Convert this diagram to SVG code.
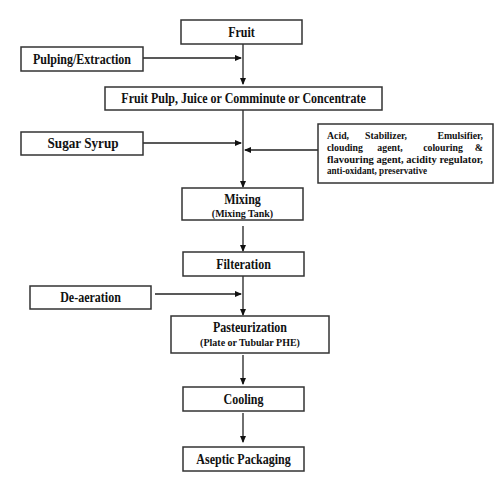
<svg xmlns="http://www.w3.org/2000/svg" width="500" height="500" viewBox="0 0 500 500">
<style>
.box{fill:#fff;stroke:#333;stroke-width:1.5}
.t{font-family:"Liberation Serif","Times New Roman",serif;font-weight:bold;font-size:12px;fill:#111;text-anchor:middle}
.s{font-size:10px}
.a{font-family:"Liberation Serif","Times New Roman",serif;font-weight:bold;font-size:9.8px;fill:#111}
.ln{stroke:#222;stroke-width:1.3;fill:none}
</style>
<defs>
<marker id="ar" markerWidth="7" markerHeight="6" refX="6" refY="3" orient="auto" markerUnits="userSpaceOnUse">
<path d="M0,0 L7,3 L0,6 Z" fill="#111"/>
</marker>
</defs>
<rect width="500" height="500" fill="#fff"/>
<g id="connectors">
<path class="ln" d="M243,44 V84" marker-end="url(#ar)"/>
<path class="ln" d="M143,58 H241" marker-end="url(#ar)"/>
<path class="ln" d="M243,110 V187" marker-end="url(#ar)"/>
<path class="ln" d="M143,143 H241" marker-end="url(#ar)"/>
<path class="ln" d="M318,150 H245" marker-end="url(#ar)"/>
<path class="ln" d="M243,226 V251" marker-end="url(#ar)"/>
<path class="ln" d="M243,276 V315" marker-end="url(#ar)"/>
<path class="ln" d="M155,294 H241" marker-end="url(#ar)"/>
<path class="ln" d="M243,355 V384" marker-end="url(#ar)"/>
<path class="ln" d="M243,413 V442" marker-end="url(#ar)"/>
</g>
<g id="fruit"><rect class="box" x="181" y="20" width="121" height="24"/><text class="t" transform="translate(241.5,36.5) scale(1,1.13)">Fruit</text></g>
<g id="pulping"><rect class="box" x="21" y="47" width="122" height="24"/><text class="t" transform="translate(82,63.5) scale(1,1.13)">Pulping/Extraction</text></g>
<g id="pulp"><rect class="box" x="105" y="87" width="277" height="23"/><text class="t" transform="translate(243.5,103) scale(1,1.13)">Fruit Pulp, Juice or Comminute or Concentrate</text></g>
<g id="sugar"><rect class="box" x="21" y="132" width="122" height="23"/><text class="t" transform="translate(83,148) scale(1,1.13)" textLength="71" lengthAdjust="spacingAndGlyphs">Sugar Syrup</text></g>
<g id="additives"><rect class="box" x="318" y="124" width="175" height="59"/>
<g transform="translate(0,139) scale(1,1.12) translate(0,-139)">
<text class="a" x="327" y="139">Acid,</text><text class="a" x="386" y="139" text-anchor="middle">Stabilizer,</text><text class="a" x="483" y="139" text-anchor="end">Emulsifier,</text>
<text class="a" x="327" y="149.7">clouding</text><text class="a" x="390" y="149.7" text-anchor="middle">agent,</text><text class="a" x="443" y="149.7" text-anchor="middle">colouring</text><text class="a" x="483" y="149.7" text-anchor="end">&amp;</text>
<text class="a" x="327" y="160.4" textLength="156" lengthAdjust="spacingAndGlyphs">flavouring agent, acidity regulator,</text>
<text class="a" x="327" y="170.2" textLength="100" lengthAdjust="spacingAndGlyphs">anti-oxidant, preservative</text>
</g>
</g>
<g id="mixing"><rect class="box" x="182" y="188" width="121" height="32"/><text class="t" transform="translate(242.5,204) scale(1,1.13)">Mixing</text><text class="t s" transform="translate(242.5,217) scale(1,1.13)">(Mixing Tank)</text></g>
<g id="filteration"><rect class="box" x="183" y="252" width="121" height="24"/><text class="t" transform="translate(243.5,268.5) scale(1,1.13)">Filteration</text></g>
<g id="deaeration"><rect class="box" x="30" y="286" width="121" height="23"/><text class="t" transform="translate(90.5,302) scale(1,1.13)">De-aeration</text></g>
<g id="pasteurization"><rect class="box" x="171" y="316" width="158" height="37"/><text class="t" transform="translate(250,332) scale(1,1.13)">Pasteurization</text><text class="t s" transform="translate(250,345.5) scale(1,1.13)">(Plate or Tubular PHE)</text></g>
<g id="cooling"><rect class="box" x="183" y="387" width="121" height="24"/><text class="t" transform="translate(243.5,403.5) scale(1,1.13)">Cooling</text></g>
<g id="aseptic"><rect class="box" x="183" y="447" width="121" height="24"/><text class="t" transform="translate(243.5,463.5) scale(1,1.13)">Aseptic Packaging</text></g>
</svg>
